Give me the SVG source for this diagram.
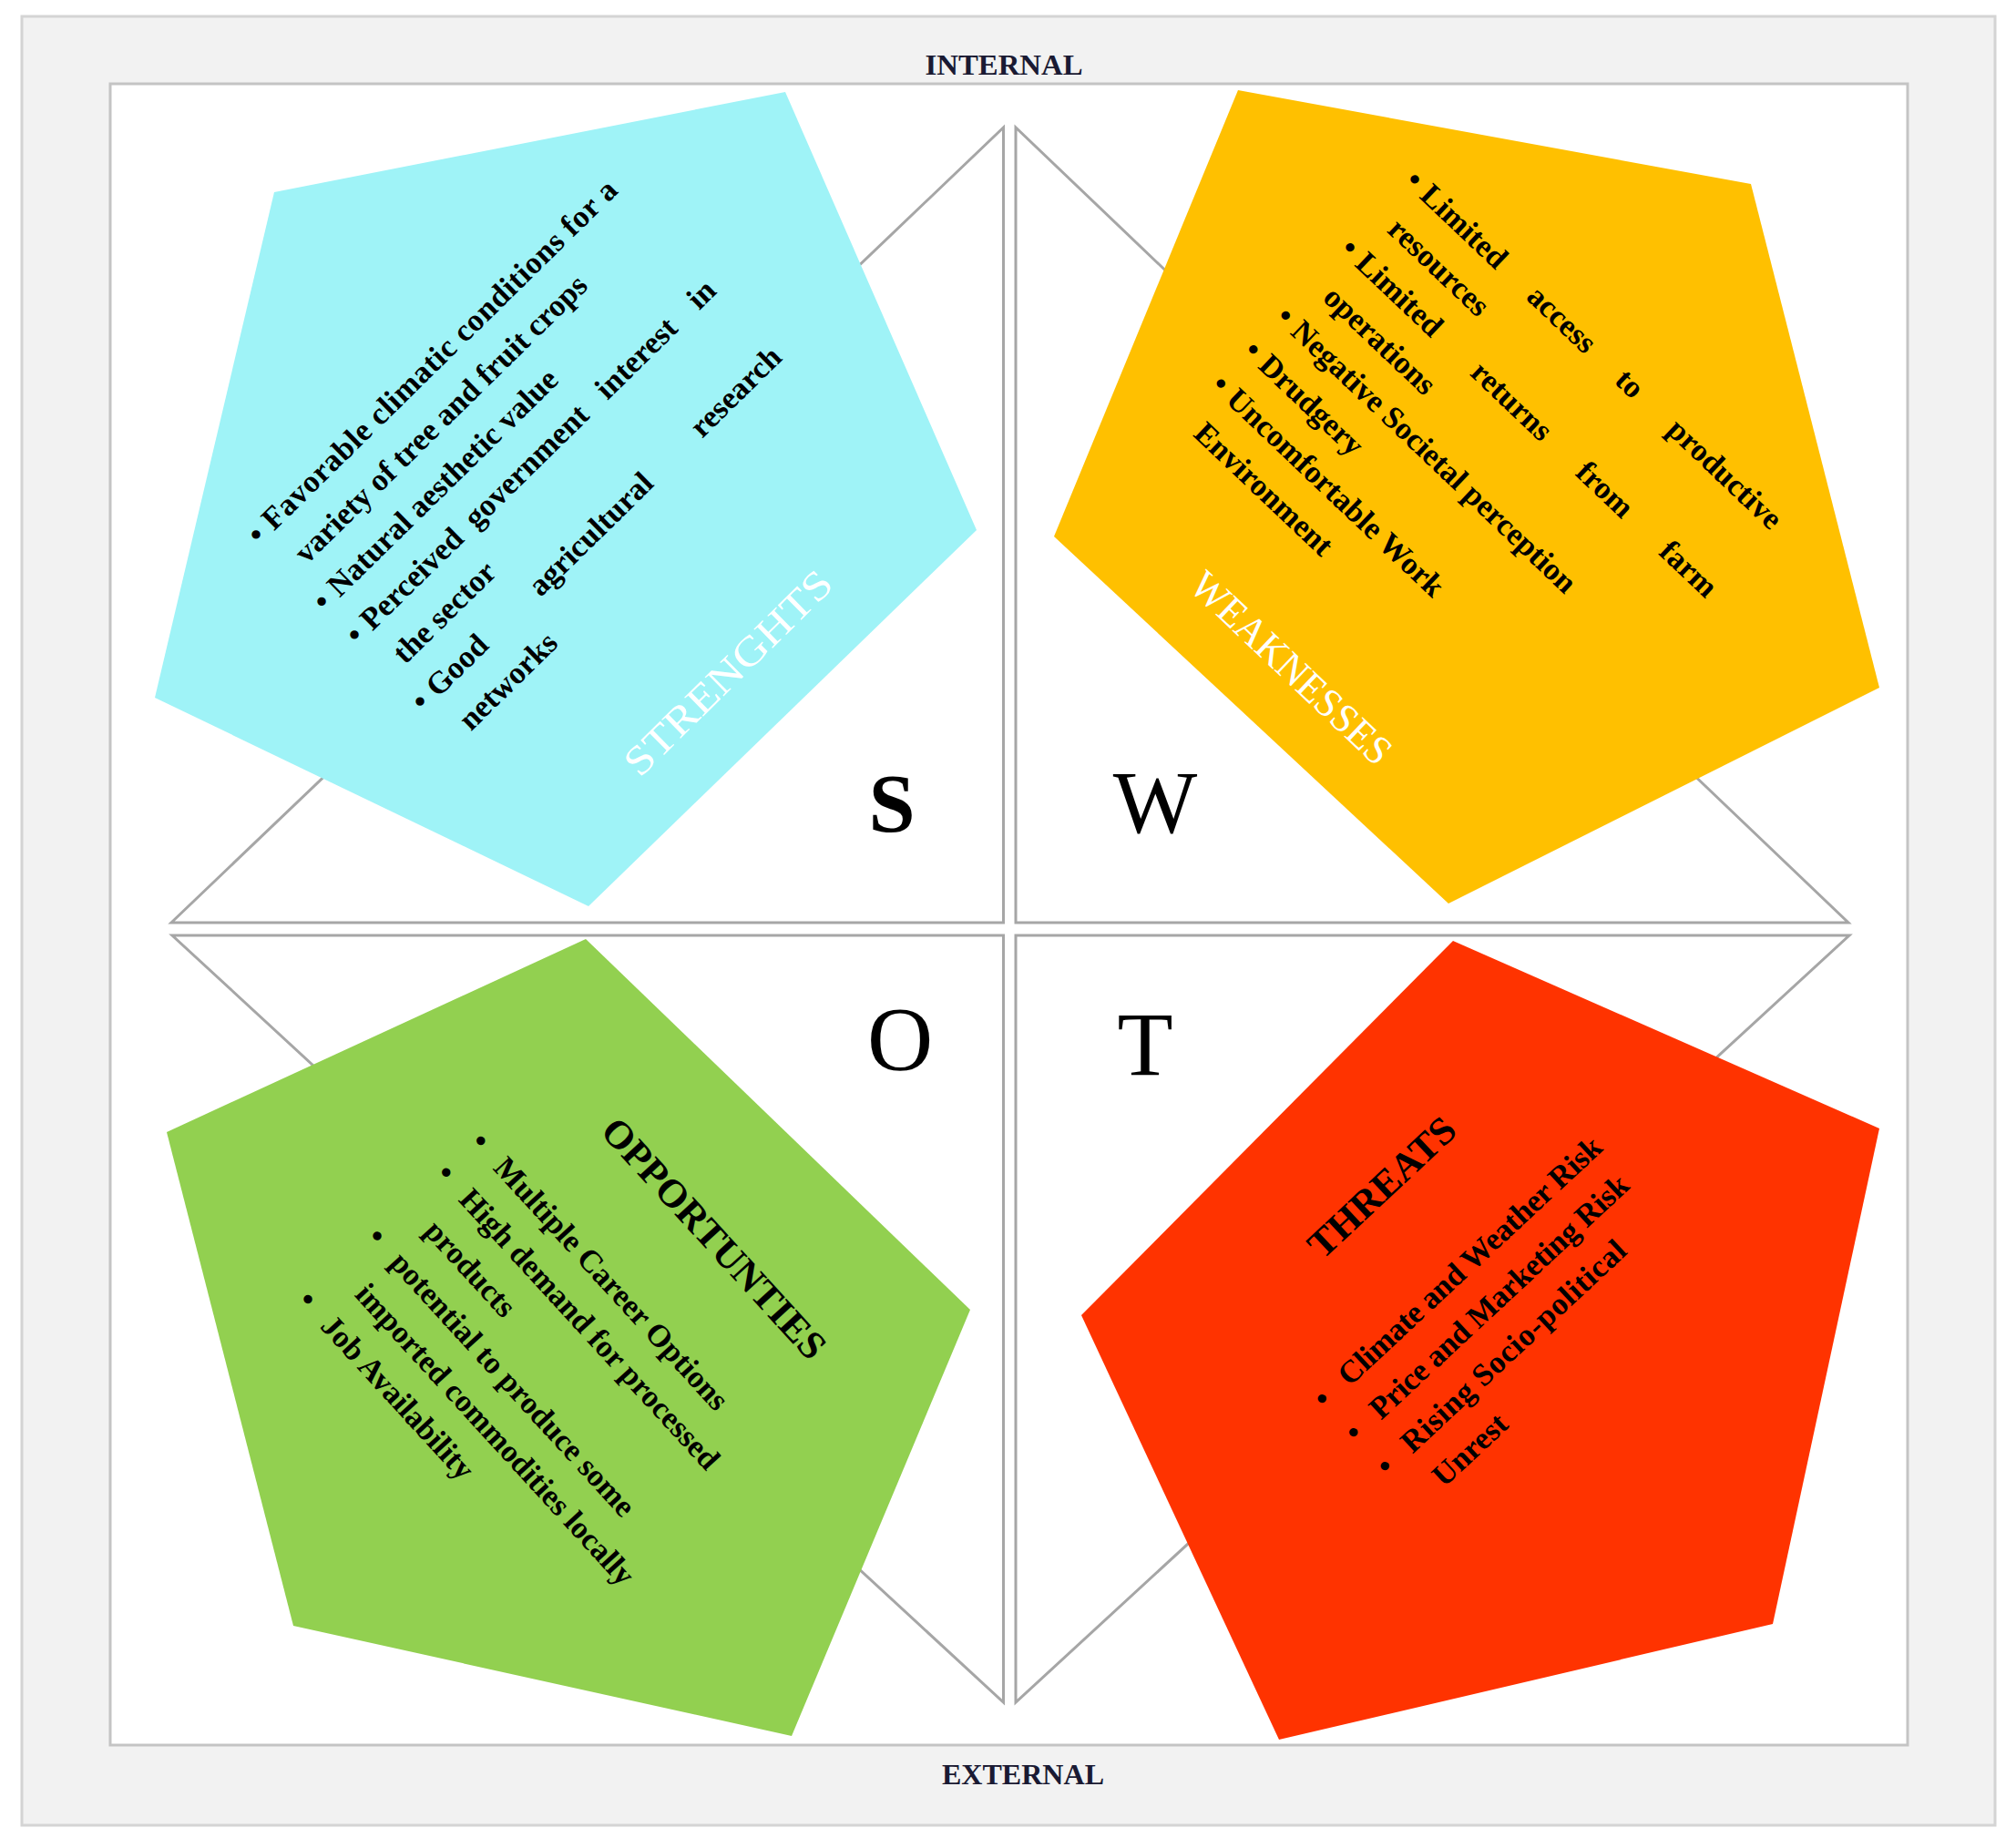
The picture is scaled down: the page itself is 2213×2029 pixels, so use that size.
<svg xmlns="http://www.w3.org/2000/svg" width="2213" height="2029" viewBox="0 0 2213 2029">
<style>
.t{font-family:"Liberation Serif","Times New Roman",serif;font-weight:bold;font-size:34.5px;fill:#000}
.m{text-anchor:middle}
.e{text-anchor:end}
.lbl{font-family:"Liberation Serif","Times New Roman",serif;font-size:45px;fill:#fff}
.ttl{font-family:"Liberation Serif","Times New Roman",serif;font-weight:bold;font-size:43px;fill:#000}
.big{font-family:"Liberation Serif","Times New Roman",serif;fill:#000;text-anchor:middle}
.ax{font-family:"Liberation Serif","Times New Roman",serif;font-weight:bold;font-size:32px;fill:#1a1a33;text-anchor:middle}
.tri{fill:none;stroke:#a6a6a6;stroke-width:3}
</style>
<rect x="24" y="18" width="2166" height="1986" fill="#f2f2f2" stroke="#d4d4d4" stroke-width="3"/>
<rect x="121" y="92" width="1973" height="1824" fill="#fff" stroke="#c4c4c4" stroke-width="3"/>
<text class="ax" x="1102" y="82" textLength="173" lengthAdjust="spacingAndGlyphs">INTERNAL</text>
<text class="ax" x="1123" y="1959" textLength="178" lengthAdjust="spacingAndGlyphs">EXTERNAL</text>
<g id="connectors">
<polygon class="tri" points="188,1013 1101.5,140 1101.5,1013"/>
<polygon class="tri" points="1115,140 1115,1013 2029,1013"/>
<polygon class="tri" points="189,1027 1101.5,1027 1101.5,1869"/>
<polygon class="tri" points="1115,1027 2030,1027 1115,1869"/>
</g>
<g id="strengths">
<polygon points="301,211 862,101 1072,582 646,995 170,766" fill="#9ff3f7"/>
<g transform="rotate(-44.5)">
<text class="t" x="-217" y="627">•</text>
<text class="t" x="-194.5" y="627" textLength="531.5" lengthAdjust="spacing">Favorable climatic conditions for a</text>
<text class="t" x="-194.5" y="678.4">variety of tree and fruit crops</text>
<text class="t" x="-217" y="729.8">•</text>
<text class="t" x="-194.5" y="729.8">Natural aesthetic value</text>
<text class="t" x="-217" y="781.2">•</text>
<text class="t" x="-194.5" y="781.2">Perceived</text>
<text class="t" x="-34.7" y="781.2">government</text>
<text class="t" x="167.3" y="781.2">interest</text>
<text class="t e" x="337" y="781.2">in</text>
<text class="t" x="-194.5" y="832.6">the sector</text>
<text class="t" x="-217" y="884">•</text>
<text class="t" x="-194.5" y="884">Good</text>
<text class="t" x="-36.7" y="884">agricultural</text>
<text class="t e" x="337" y="884">research</text>
<text class="t" x="-194.5" y="935.4">networks</text>
<text class="lbl" x="-98" y="1102" textLength="301" lengthAdjust="spacingAndGlyphs">STRENGHTS</text>
</g>
<text class="big" x="979" y="913" font-size="92" font-weight="bold">S</text>
</g>
<g id="weaknesses">
<polygon points="1359,99 1922,202 2063,755 1590,992 1157,589" fill="#ffc000"/>
<g transform="rotate(43.5)">
<text class="t" x="1256" y="-914.7">•</text>
<text class="t" x="1278.5" y="-914.7">Limited</text>
<text class="t m" x="1485" y="-914.7">access</text>
<text class="t m" x="1587.8" y="-914.7">to</text>
<text class="t e" x="1811" y="-914.7">productive</text>
<text class="t" x="1278.5" y="-863.2">resources</text>
<text class="t" x="1256" y="-811.7">•</text>
<text class="t" x="1278.5" y="-811.7">Limited</text>
<text class="t m" x="1506.9" y="-811.7">returns</text>
<text class="t m" x="1648.1" y="-811.7">from</text>
<text class="t e" x="1811" y="-811.7">farm</text>
<text class="t" x="1278.5" y="-760.2">operations</text>
<text class="t" x="1256" y="-708.7">•</text>
<text class="t" x="1278.5" y="-708.7">Negative Societal perception</text>
<text class="t" x="1256" y="-657.2">•</text>
<text class="t" x="1278.5" y="-657.2">Drudgery</text>
<text class="t" x="1256" y="-605.7">•</text>
<text class="t" x="1278.5" y="-605.7">Uncomfortable Work</text>
<text class="t" x="1278.5" y="-554.2">Environment</text>
<text class="lbl" x="1390" y="-429" textLength="286" lengthAdjust="spacingAndGlyphs">WEAKNESSES</text>
</g>
<text class="big" x="1268" y="914" font-size="98">W</text>
</g>
<g id="opportunities">
<polygon points="643,1031 1065,1438 869,1906 322,1785 183,1243" fill="#92d050"/>
<g transform="rotate(47.5)">
<text class="ttl" x="1361" y="355" textLength="342" lengthAdjust="spacingAndGlyphs">OPPORTUNTIES</text>
<text class="t" x="1274" y="468.6">•</text>
<text class="t" x="1311" y="468.6">Multiple Career Options</text>
<text class="t" x="1274" y="520">•</text>
<text class="t" x="1311" y="520">High demand for processed</text>
<text class="t" x="1311" y="571.6">products</text>
<text class="t" x="1274" y="623">•</text>
<text class="t" x="1311" y="623">potential to produce some</text>
<text class="t" x="1311" y="674.6">imported commodities locally</text>
<text class="t" x="1274" y="726">•</text>
<text class="t" x="1311" y="726">Job Availability</text>
</g>
<text class="big" x="988" y="1174" font-size="100">O</text>
</g>
<g id="threats">
<polygon points="1595,1033 2063,1239 1946,1783 1404,1910 1187,1444" fill="#ff3300"/>
<g transform="rotate(-43)">
<text class="ttl" x="118" y="2002" textLength="205" lengthAdjust="spacingAndGlyphs">THREATS</text>
<text class="t" x="8" y="2124">•</text>
<text class="t" x="45" y="2124" textLength="382" lengthAdjust="spacing">Climate and Weather Risk</text>
<text class="t" x="8" y="2174.6">•</text>
<text class="t" x="45" y="2174.6" textLength="375" lengthAdjust="spacing">Price and Marketing Risk</text>
<text class="t" x="8" y="2225.2">•</text>
<text class="t" x="45" y="2225.2" textLength="324" lengthAdjust="spacing">Rising Socio-political</text>
<text class="t" x="45" y="2275.8">Unrest</text>
</g>
<text class="big" x="1257" y="1180" font-size="100">T</text>
</g>
</svg>
